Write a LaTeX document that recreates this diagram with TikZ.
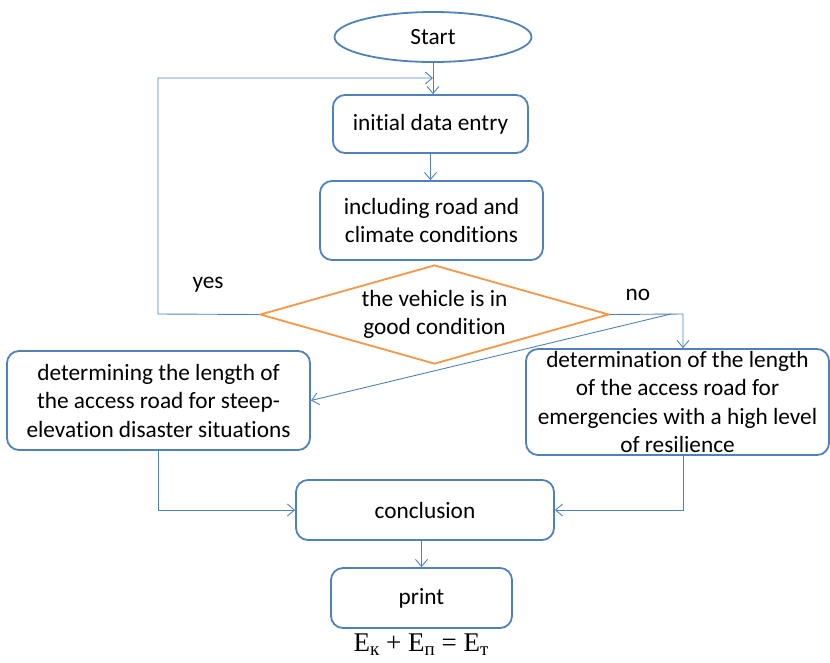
\documentclass[tikz,border=0pt]{standalone}
\usepackage{fontspec}
\setmainfont{Carlito}[Ligatures=NoCommon]
\newfontfamily\cyrserif{Liberation Serif}
\usetikzlibrary{shapes.geometric,arrows.meta}
\definecolor{lineblue}{RGB}{79,129,189}
\definecolor{diaorange}{RGB}{247,150,70}
\tikzset{
  procbox/.style={draw=lineblue, line width=1.8pt, rounded corners=12pt, align=center, inner sep=0pt, font=\fontsize{23.3}{28.5}\selectfont},
  termbox/.style={draw=lineblue, line width=1.8pt, ellipse, inner sep=0pt, font=\fontsize{23.3}{28.5}\selectfont},
  decbox/.style={draw=diaorange, line width=1.8pt, diamond, inner sep=0pt, align=center, font=\fontsize{23.3}{28.5}\selectfont},
  conn/.style={draw=lineblue, line width=0.9pt, -{Straight Barb[length=7pt,width=12pt,line width=0.9pt]}},
  lbl/.style={font=\fontsize{23.3}{28}\selectfont, inner sep=0pt}
}
\begin{document}
\begin{tikzpicture}[x=1pt,y=-1pt]
\useasboundingbox (0,0) rectangle (830,662);
\node[termbox, minimum width=197pt, minimum height=50pt] (start) at (433,37) {Start};
\node[procbox, minimum width=195pt, minimum height=58pt] (entry) at (430.5,124) {initial data entry};
\node[procbox, minimum width=223pt, minimum height=79pt] (incl) at (431.5,220.5) {including road and\\climate conditions};
\node[decbox, minimum width=349pt, minimum height=99pt, aspect=3.5] (dec) at (434.5,314.5) {the vehicle is in\\good condition};
\node[procbox, minimum width=303pt, minimum height=99pt] (left) at (158.5,400.5) {determining the length of\\the access road for steep-\\elevation disaster situations};
\node[procbox, minimum width=303pt, minimum height=106pt] (right) at (677.5,402) {determination of the length\\of the access road for\\emergencies with a high level\\of resilience};
\node[procbox, minimum width=258pt, minimum height=60pt] (concl) at (425,510) {conclusion};
\node[procbox, minimum width=181pt, minimum height=60pt] (print) at (421.5,598) {print};
\node[lbl] (yes) at (208,285) {yes};
\node[lbl] (no) at (638,295) {no};
\node[font=\cyrserif\fontsize{27}{30}\selectfont, inner sep=0pt] (formula) at (421,645)
  {Е\raisebox{-0.3ex}{\fontsize{19}{19}\selectfont к}\hspace{0.25em}+\hspace{0.25em}Е\raisebox{-0.3ex}{\fontsize{19}{19}\selectfont п}\hspace{0.25em}=\hspace{0.25em}Е\raisebox{-0.3ex}{\fontsize{19}{19}\selectfont т}};
\coordinate (loopL) at (158,314);
\coordinate (loopT) at (158,78);
\coordinate (noR) at (683,314);
\coordinate (diagS) at (671,314);
\draw[conn] (start.south) -- (start.south |- entry.north);
\draw[conn] (entry.south) -- (entry.south |- incl.north);
\draw[conn] (dec.west) -- (loopL) -- (loopT) -- (loopT -| start.south);
\draw[conn] (dec.east) -- (noR) -- (noR |- right.north);
\draw[conn] (diagS) -- (left.east);
\draw[conn] (left.south) -- (left.south |- concl.west) -- (concl.west);
\draw[conn] (noR |- right.south) -- (noR |- concl.east) -- (concl.east);
\draw[conn] (concl.south -| print.north) -- (print.north);
\end{tikzpicture}
\end{document}
